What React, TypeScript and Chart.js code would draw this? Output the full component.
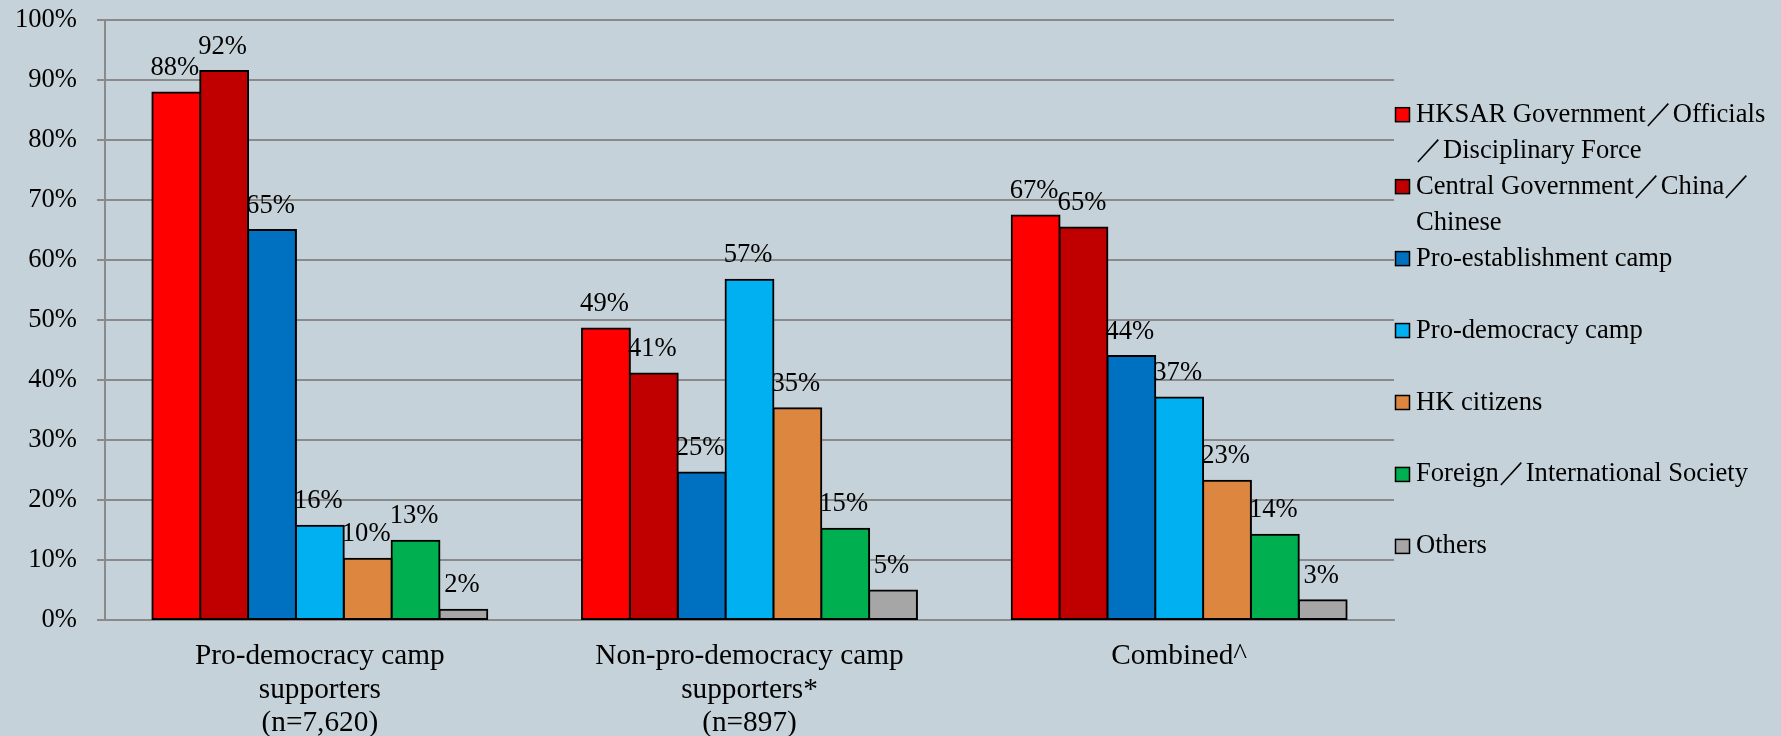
import React, { useEffect, useRef } from "react";
import { Chart, registerables } from "chart.js";

Chart.register(...registerables);

const categories: string[][] = [
  ["Pro-democracy camp", "supporters", "(n=7,620)"],
  ["Non-pro-democracy camp", "supporters*", "(n=897)"],
  ["Combined^"],
];

const seriesNames: string[][] = [
  ["HKSAR Government／Officials", "／Disciplinary Force"],
  ["Central Government／China／", "Chinese"],
  ["Pro-establishment camp"],
  ["Pro-democracy camp"],
  ["HK citizens"],
  ["Foreign／International Society"],
  ["Others"],
];

const seriesColors: string[] = [
  "#FF0000",
  "#C00000",
  "#0070C0",
  "#00B0F0",
  "#DD8640",
  "#00B050",
  "#A6A6A6",
];

const hksarGov: number[] = [87.9, 48.6, 67.4];
const centralGov: number[] = [91.5, 41.1, 65.4];
const proEstablishment: number[] = [65.0, 24.6, 44.0];
const proDemocracy: number[] = [15.7, 56.7, 37.1];
const hkCitizens: number[] = [10.2, 35.3, 23.2];
const foreignIntl: number[] = [13.2, 15.2, 14.2];
const others: number[] = [1.7, 4.9, 3.3];

const seriesValues: number[][] = [
  hksarGov,
  centralGov,
  proEstablishment,
  proDemocracy,
  hkCitizens,
  foreignIntl,
  others,
];

const yTicks: number[] = [0, 10, 20, 30, 40, 50, 60, 70, 80, 90, 100];

const BG = "#C6D2D9";
const GRID = "#8A8A8A";
const FONT = "'Times New Roman', 'Liberation Serif', serif";

const dataLabelPlugin = {
  id: "dataLabels",
  afterDatasetsDraw(chart: any) {
    const ctx = chart.ctx;
    ctx.save();
    ctx.font = `26.6px ${FONT}`;
    ctx.fillStyle = "#000";
    ctx.textAlign = "center";
    ctx.textBaseline = "alphabetic";
    chart.data.datasets.forEach((ds: any, di: number) => {
      const meta = chart.getDatasetMeta(di);
      meta.data.forEach((el: any, i: number) => {
        const v = ds.data[i];
        ctx.fillText(`${Math.round(v)}%`, el.x - 1.5, el.y - 17.5);
      });
    });
    ctx.restore();
  },
};

const legendPlugin = {
  id: "customLegend",
  afterDraw(chart: any) {
    const ctx = chart.ctx;
    ctx.save();
    ctx.font = `26.6px ${FONT}`;
    ctx.textAlign = "left";
    ctx.textBaseline = "alphabetic";
    const x0 = 1395.5;
    const textX = 1416;
    const y0 = 121.7;
    const step = 71.95;
    const lineH = 36.5;
    chart.data.datasets.forEach((ds: any, i: number) => {
      const base = y0 + step * i;
      ctx.fillStyle = ds.backgroundColor;
      ctx.fillRect(x0, base - 14, 14, 14);
      ctx.strokeStyle = "#000";
      ctx.lineWidth = 1.5;
      ctx.strokeRect(x0, base - 14, 14, 14);
      ctx.fillStyle = "#000";
      const lines: string[] = ds.legendLines;
      lines.forEach((ln, k) => ctx.fillText(ln, textX, base + k * lineH));
    });
    ctx.restore();
  },
};

export default function App() {
  const ref = useRef<HTMLCanvasElement | null>(null);

  useEffect(() => {
    if (!ref.current) return;
    const chart = new Chart(ref.current, {
      type: "bar",
      data: {
        labels: categories,
        datasets: seriesNames.map((name, i) => ({
          label: name.join(" "),
          legendLines: name,
          data: seriesValues[i],
          backgroundColor: seriesColors[i],
          borderColor: "#000000",
          borderWidth: 2,
          borderSkipped: false,
          inflateAmount: 1,
          categoryPercentage: 0.7795,
          barPercentage: 1,
        })) as any,
      },
      options: {
        responsive: false,
        animation: false,
        devicePixelRatio: 1,
        layout: { padding: { left: 0, top: 20, right: 387, bottom: 0 } },
        plugins: {
          legend: { display: false },
          tooltip: { enabled: false },
          title: { display: false },
        },
        scales: {
          x: {
            grid: { display: false, drawTicks: false },
            border: { display: true, color: GRID, width: 2 },
            ticks: {
              color: "#000",
              padding: 20,
              font: { family: FONT, size: 29.3, lineHeight: "33.5px" } as any,
              maxRotation: 0,
              autoSkip: false,
            },
            afterFit(scale: any) {
              scale.height = 116;
            },
          },
          y: {
            min: 0,
            max: 100,
            afterBuildTicks(scale: any) {
              scale.ticks = yTicks.map((v) => ({ value: v }));
            },
            grid: {
              color: GRID,
              lineWidth: 2,
              tickLength: 8,
              drawTicks: true,
            },
            border: { display: true, color: GRID, width: 2 },
            ticks: {
              color: "#000",
              padding: 20,
              font: { family: FONT, size: 26.6 },
              callback: (v: any) => `${v}%`,
            },
            afterFit(scale: any) {
              scale.width = 105;
              scale.paddingTop = 0;
              scale.paddingBottom = 0;
            },
          },
        },
      },
      plugins: [dataLabelPlugin, legendPlugin],
    });
    return () => chart.destroy();
  }, []);

  return (
    <div
      style={{
        position: "fixed",
        left: 0,
        top: 0,
        width: 1781,
        height: 736,
        background: BG,
      }}
    >
      <canvas ref={ref} width={1781} height={736} style={{ display: "block" }} />
    </div>
  );
}
